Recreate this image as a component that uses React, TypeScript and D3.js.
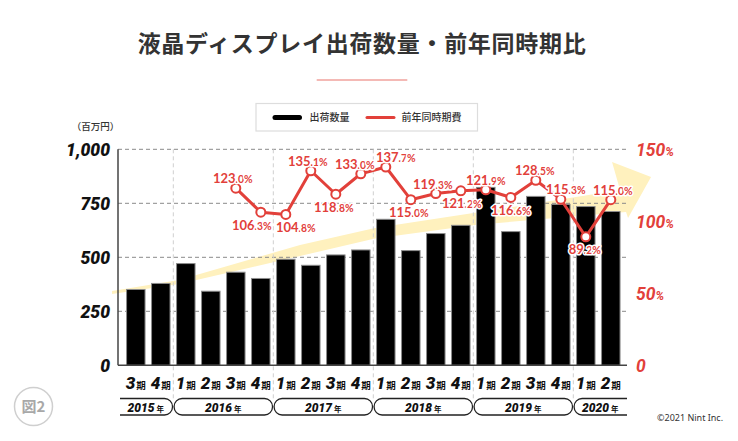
import React from 'react';
import * as d3 from 'd3';

const quarterNums = ['3', '4', '1', '2', '3', '4', '1', '2', '3', '4', '1', '2', '3', '4', '1', '2', '3', '4', '1', '2'];
const quarterYears = [2015, 2015, 2016, 2016, 2016, 2016, 2017, 2017, 2017, 2017, 2018, 2018, 2018, 2018, 2019, 2019, 2019, 2019, 2020, 2020];
const shipments = [351, 379, 471, 343, 431, 402, 491, 463, 511, 534, 676, 531, 610, 648, 824, 619, 782, 745, 735, 712];
const yoy: (number | null)[] = [null, null, null, null, 123.0, 106.3, 104.8, 135.1, 118.8, 133.0, 137.7, 115.0, 119.3, 121.2, 121.9, 116.6, 128.5, 115.3, 89.2, 115.0];
const years = [2015, 2016, 2017, 2018, 2019, 2020];
const leftTicks = [0, 250, 500, 750, 1000];
const rightTicks = [0, 50, 100, 150];
const title = '液晶ディスプレイ出荷数量・前年同時期比';
const legendBar = '出荷数量';
const legendLine = '前年同時期費';

// label placement (a = above, b = below) and horizontal nudges
const labelSide = ['', '', '', '', 'a', 'b', 'b', 'a', 'b', 'a', 'a', 'b', 'a', 'b', 'a', 'b', 'a', 'a', 'b', 'a'];
const labelDx = [0, 0, 0, 0, -3, -9, 10, -3, -2, -6, 10, -2, -3, 1, 0, 0, -1, 5, -1, 2];

// decorative trend arrow outline in (index, value) units
const arrowShape: [number, number][] = [
  [-0.95, 344], [1.73, 395], [6.57, 557], [9.57, 636], [13.57, 706], [19.37, 811],
  [19.05, 941], [20.61, 872], [19.69, 682], [19.61, 710],
  [13.57, 650], [9.57, 587], [6.57, 506], [1.73, 376], [-0.95, 330],
];

const RED = '#E2403A';
const NUM_FONT = "Roboto, 'Noto Sans', sans-serif";
const JP_FONT = "'Noto Sans CJK JP', 'Noto Sans', sans-serif";

export default function App() {
  const W = 738, H = 441;
  const plotL = 118, plotR = 627, plotT = 149.3, plotB = 365.3;

  const ids = quarterNums.map((_, i) => String(i));
  const x = d3.scaleBand<string>().domain(ids).range([123.3, 623.3]).paddingInner(0.26).paddingOuter(0.13);
  const step = x.step();
  const bandStart = (i: number) => 123.3 + step * i;
  const xc = (i: number) => (x(String(i)) as number) + x.bandwidth() / 2;
  const xi = d3.scaleLinear().domain([0, 19]).range([xc(0), xc(19)]);
  const yL = d3.scaleLinear().domain([0, 1000]).range([plotB, plotT]);
  const yR = d3.scaleLinear().domain([0, 150]).range([plotB, plotT]);

  const linePts = yoy.map((v, i) => ({ v, i })).filter(d => d.v !== null) as { v: number; i: number }[];
  const lineGen = d3.line<{ v: number; i: number }>().x(d => xc(d.i)).y(d => yR(d.v));
  const arrowGen = d3.line<[number, number]>().x(d => xi(d[0])).y(d => yL(d[1]));

  const yearGroups = years.map(y => {
    const idx = quarterYears.map((qy, i) => (qy === y ? i : -1)).filter(i => i >= 0);
    return { y, first: idx[0], last: idx[idx.length - 1] };
  });
  const dividers = yearGroups.slice(1).map(g => bandStart(g.first));

  const fmtLeft = d3.format(',');
  const pillT = 398.5, pillH = 16.5;

  return (
    <svg width={W} height={H} style={{ position: 'absolute', left: 0, top: 0, background: '#fff' }}>
      <defs>
        <clipPath id="pillclip">
          <rect x={plotL + 2} y={pillT - 3} width={plotR - plotL - 2} height={pillH + 6} />
        </clipPath>
      </defs>
      {/* title */}
      <text x={362} y={52} textAnchor="middle" fontFamily={JP_FONT} fontWeight={700} fontSize={23} letterSpacing={0.7} fill="#333">{title}</text>
      <line x1={316.7} x2={407.3} y1={80} y2={80} stroke="#F0A29C" strokeWidth={1.5} />

      {/* legend */}
      <rect x={256} y={103.5} width={221.5} height={27.5} fill="#fff" stroke="#ddd" strokeWidth={1.2} />
      <line x1={275} x2={299.5} y1={117.5} y2={117.5} stroke="#000" strokeWidth={5} strokeLinecap="round" />
      <text x={309.5} y={121.2} fontFamily={JP_FONT} fontSize={10} fontWeight={500} fill="#333">{legendBar}</text>
      <line x1={367} x2={394} y1={117.5} y2={117.5} stroke={RED} strokeWidth={3} strokeLinecap="round" />
      <text x={401.5} y={121.2} fontFamily={JP_FONT} fontSize={10} fontWeight={500} fill="#333">{legendLine}</text>

      {/* unit */}
      <text x={95.5} y={129.5} textAnchor="middle" fontFamily={JP_FONT} fontSize={9.5} fontWeight={500} fill="#333">（百万円）</text>

      {/* arrow */}
      <path d={(arrowGen(arrowShape) || '') + 'Z'} fill="#FFF1BE" />

      {/* grid */}
      {leftTicks.filter(t => t > 0).map(t => (
        <line key={t} x1={plotL} x2={plotR} y1={yL(t)} y2={yL(t)} stroke="#8a8a8a" strokeWidth={1} strokeDasharray="4 3" />
      ))}
      {dividers.map((dx, k) => (
        <line key={k} x1={dx} x2={dx} y1={plotT} y2={pillT} stroke="#cfcfcf" strokeWidth={1} strokeDasharray="4 3" />
      ))}

      {/* bars */}
      {shipments.map((v, i) => (
        <rect key={i} x={x(String(i))} y={yL(v)} width={x.bandwidth()} height={plotB - yL(v)} fill="#000" stroke="#8c8c8c" strokeWidth={1} />
      ))}

      {/* axes */}
      <line x1={plotL} x2={plotL} y1={plotT} y2={plotB} stroke="#444" strokeWidth={1.5} />
      <line x1={plotL} x2={plotR} y1={plotB} y2={plotB} stroke="#444" strokeWidth={1.5} />

      {leftTicks.map(t => (
        <text key={t} x={110} y={yL(t) + 6.5} textAnchor="end" fontFamily={NUM_FONT} fontStyle="italic" fontWeight={900} fontSize={17.5} fill="#111">{fmtLeft(t)}</text>
      ))}
      {rightTicks.map(t => (
        <text key={t} x={636} y={yR(t) + 6.5} fontFamily={NUM_FONT} fontStyle="italic" fontWeight={700} fontSize={17.5} fill={RED}>
          {t}
          {t > 0 ? <tspan fontSize={12}>%</tspan> : null}
        </text>
      ))}

      {/* line */}
      <path d={lineGen(linePts) || ''} fill="none" stroke={RED} strokeWidth={3} strokeLinejoin="round" />
      {linePts.map(d => (
        <circle key={d.i} cx={xc(d.i)} cy={yR(d.v)} r={4.5} fill="#fff" stroke={RED} strokeWidth={2} />
      ))}
      {linePts.map(d => {
        const s = d.v.toFixed(1);
        const [ip, dp] = s.split('.');
        const above = labelSide[d.i] === 'a';
        const ty = yR(d.v) + (above ? -5 : 17.5);
        return (
          <text key={d.i} x={xc(d.i) + labelDx[d.i]} y={ty} textAnchor="middle" fontFamily="Lato, 'Noto Sans', sans-serif" fontWeight={700} fill={RED}
            stroke="#fff" strokeWidth={3} paintOrder="stroke" strokeLinejoin="round">
            <tspan fontSize={13}>{ip}</tspan>
            <tspan fontSize={10.5}>.{dp}%</tspan>
          </text>
        );
      })}

      {/* quarter labels */}
      {quarterNums.map((q, i) => (
        <text key={i} x={xc(i)} y={389} textAnchor="middle" fill="#111">
          <tspan fontFamily={NUM_FONT} fontStyle="italic" fontWeight={900} fontSize={17}>{q}</tspan>
          <tspan fontFamily={JP_FONT} fontWeight={700} fontSize={9.5} dx={1}>期</tspan>
        </text>
      ))}

      {/* year pills */}
      <g clipPath="url(#pillclip)">
        {yearGroups.map((g, k) => {
          let x0 = bandStart(g.first);
          let x1 = bandStart(g.last + 1);
          if (k === 0) x0 -= 30;
          if (k === yearGroups.length - 1) x1 += 30;
          return (
            <rect key={g.y} x={x0 + 0.8} y={pillT} width={x1 - x0 - 1.6} height={pillH} rx={8} ry={8} fill="none" stroke="#222" strokeWidth={1.3} />
          );
        })}
      </g>
      {yearGroups.map((g, k) => {
        let x0 = bandStart(g.first);
        let x1 = bandStart(g.last + 1);
        if (k === 0) x0 = plotL;
        if (k === yearGroups.length - 1) x1 = plotR;
        return (
          <text key={g.y} x={(x0 + x1) / 2} y={411.5} textAnchor="middle" fill="#111">
            <tspan fontFamily={NUM_FONT} fontStyle="italic" fontWeight={900} fontSize={12}>{g.y}</tspan>
            <tspan fontFamily={JP_FONT} fontWeight={700} fontSize={7.5} dx={2}>年</tspan>
          </text>
        );
      })}

      {/* figure badge */}
      <circle cx={33.5} cy={406.5} r={19} fill="#fff" stroke="#cfcfcf" strokeWidth={1.5} />
      <text x={33.5} y={412} textAnchor="middle" fontFamily={JP_FONT} fontWeight={700} fontSize={15} fill="#a8a8a8">図2</text>

      <text x={657} y={421} fontFamily="'Noto Sans', sans-serif" fontSize={9} fill="#333">©2021 Nint Inc.</text>
    </svg>
  );
}
